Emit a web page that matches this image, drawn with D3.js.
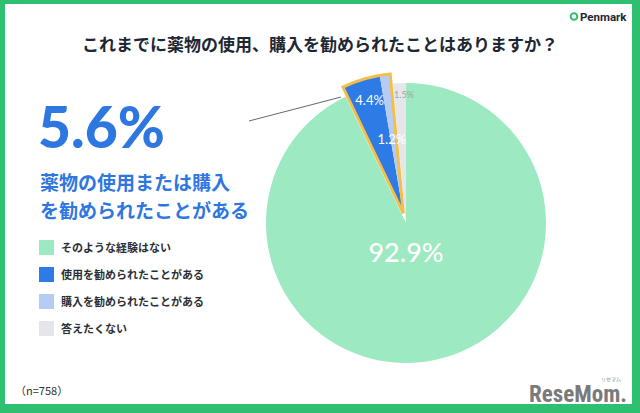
<!DOCTYPE html>
<html><head><meta charset="utf-8">
<script src="https://cdn.jsdelivr.net/npm/d3@7"></script>
<style>
html,body{margin:0;padding:0;background:#fff;}
svg{display:block;font-family:"Noto Sans CJK JP","Noto Sans",sans-serif;}
</style></head>
<body>
<svg id="c" width="640" height="413"></svg>
<script>
const title = "これまでに薬物の使用、購入を勧められたことはありますか？";
const categories = ["そのような経験はない","使用を勧められたことがある","購入を勧められたことがある","答えたくない"];
const values = [92.9, 4.4, 1.2, 1.5];
const colors = ["#9de9c1","#2f7be6","#b5cdf5","#e4e6e9"];
const highlightValue = "5.6%";
const highlightLines = ["薬物の使用または購入","を勧められたことがある"];
const sampleNote = "（n=758）";

const svg = d3.select("#c");
// border
svg.append("rect").attr("x",0).attr("y",0).attr("width",640).attr("height",413).attr("fill","#2fbf71");
svg.append("rect").attr("x",5).attr("y",4).attr("width",627).attr("height",400).attr("fill","#fff");

// title
svg.append("text").attr("x",320).attr("y",51).attr("text-anchor","middle")
  .attr("font-size",17).attr("font-weight",700).attr("fill","#1e2733").text(title);

// Penmark logo
const pm = svg.append("g");
pm.append("circle").attr("cx",574).attr("cy",16.5).attr("r",3.3).attr("fill","none").attr("stroke","#2fbf71").attr("stroke-width",2);
pm.append("text").attr("x",580).attr("y",21).attr("font-size",11.5).attr("font-weight",700).attr("fill","#1e2733")
  .attr("font-family","Roboto,'Noto Sans',sans-serif").text("Penmark");

// pie
const cx = 406, cy = 223, R = 140;
const pie = d3.pie().sort(null).value(d => d)(values);
const arc = d3.arc().innerRadius(0).outerRadius(R);
const g = svg.append("g").attr("transform",`translate(${cx},${cy})`);
const explode = new Set([1,2]);
const exStart = pie[1].startAngle, exEnd = pie[2].endAngle;
const mid = (exStart + exEnd)/2, off = 10;
const ox = Math.sin(mid)*off, oy = -Math.cos(mid)*off;

pie.forEach((p,i)=>{
  if(explode.has(i)) return;
  g.append("path").attr("d",arc(p)).attr("fill",colors[i]);
});
const eg = g.append("g").attr("transform",`translate(${ox},${oy})`);
pie.forEach((p,i)=>{
  if(!explode.has(i)) return;
  eg.append("path").attr("d",arc(p)).attr("fill",colors[i]);
});
eg.append("path").attr("d",arc({startAngle:exStart,endAngle:exEnd}))
  .attr("fill","none").attr("stroke","#f2bf4c").attr("stroke-width",3).attr("stroke-linejoin","miter");

// labels
const lab = (p, r) => { const a=(p.startAngle+p.endAngle)/2; return [Math.sin(a)*r, -Math.cos(a)*r]; };
let [lx,ly] = lab(pie[1],118);
eg.append("text").attr("x",lx+2).attr("y",ly).attr("text-anchor","middle").attr("dy","0.35em")
  .attr("font-size",13).attr("fill","#fff").attr("font-family","Lato,'Noto Sans',sans-serif").text(values[1].toFixed(1)+"%");
[lx,ly] = lab(pie[2],80);
eg.append("text").attr("x",lx-1).attr("y",ly+5).attr("text-anchor","middle").attr("dy","0.35em")
  .attr("font-size",13).attr("fill","#fff").attr("font-family","Lato,'Noto Sans',sans-serif").text(values[2].toFixed(1)+"%");
[lx,ly] = lab(pie[3],128);
g.append("text").attr("x",lx+4).attr("y",ly).attr("text-anchor","middle").attr("dy","0.35em")
  .attr("font-size",9).attr("fill","#a0a4aa").attr("font-family","Lato,'Noto Sans',sans-serif").text(values[3].toFixed(1)+"%");
g.append("text").attr("x",0).attr("y",30).attr("text-anchor","middle").attr("dy","0.35em")
  .attr("font-size",27).attr("font-weight",500).attr("fill","#fff").attr("font-family","Lato,'Noto Sans',sans-serif").text(values[0].toFixed(1)+"%");

// leader line
const ea = exStart;
const px = cx + ox + Math.sin(ea)*R, py = cy + oy - Math.cos(ea)*R;
svg.append("line").attr("x1",249).attr("y1",121).attr("x2",px-2).attr("y2",py+10)
  .attr("stroke","#666").attr("stroke-width",1);

// highlight text
svg.append("text").attr("x",38).attr("y",148).attr("font-size",57).attr("font-weight",900)
  .attr("fill","#2f77e0").attr("font-family","Lato,'Noto Sans',sans-serif").text(highlightValue);
highlightLines.forEach((t,i)=>{
  svg.append("text").attr("x",40).attr("y",190+i*28).attr("font-size",19).attr("font-weight",700)
    .attr("fill","#2f77e0").text(t);
});

// legend
categories.forEach((c,i)=>{
  const y = 248 + i*27;
  svg.append("rect").attr("x",39).attr("y",y-8).attr("width",15).attr("height",15).attr("fill",colors[i]);
  svg.append("text").attr("x",61).attr("y",y).attr("dy","0.35em").attr("font-size",11).attr("font-weight",700)
    .attr("fill","#2a2f36").text(c);
});

// footer
svg.append("text").attr("x",15).attr("y",395).attr("font-size",11).attr("fill","#333").text(sampleNote);
svg.append("text").attr("x",627).attr("y",402).attr("text-anchor","end").attr("font-size",23).attr("font-weight",700)
  .attr("fill","#7a7a7a").attr("font-family","'Roboto Condensed','Liberation Sans Narrow',Roboto,sans-serif")
  .attr("textLength",98).attr("lengthAdjust","spacingAndGlyphs").text("ReseMom.");
svg.append("text").attr("x",611).attr("y",381).attr("text-anchor","middle").attr("font-size",5).attr("fill","#888").text("リセマム");
</script>
</body></html>
